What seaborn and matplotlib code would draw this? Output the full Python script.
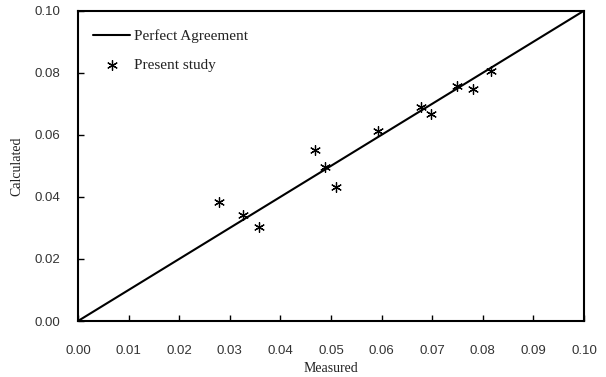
import matplotlib
matplotlib.use("Agg")
import matplotlib.pyplot as plt
import seaborn as sns
import pandas as pd

# Measured vs calculated values
measured = [0.0279, 0.0327, 0.0357, 0.0469, 0.0488, 0.0509, 0.0593, 0.0678, 0.0698, 0.0750, 0.0780, 0.0817]
calculated = [0.0384, 0.0342, 0.0302, 0.0551, 0.0495, 0.0433, 0.0612, 0.0689, 0.0667, 0.0757, 0.0749, 0.0807]

# 1:1 reference line
ref_x = [0.0, 0.10]
ref_y = [0.0, 0.10]

x_ticks = [0.00, 0.01, 0.02, 0.03, 0.04, 0.05, 0.06, 0.07, 0.08, 0.09, 0.10]
y_ticks = [0.00, 0.02, 0.04, 0.06, 0.08, 0.10]

sns.set_theme(style="ticks")
plt.rcParams["font.family"] = ["Liberation Sans", "DejaVu Sans"]

fig = plt.figure(figsize=(6.06, 3.77), dpi=100)
ax = fig.add_axes([0.1287, 0.1485, 0.835, 0.8231])

df_pts = pd.DataFrame({"Measured": measured, "Calculated": calculated})
df_ref = pd.DataFrame({"x": ref_x, "y": ref_y})

sns.lineplot(data=df_ref, x="x", y="y", ax=ax, color="black", linewidth=1.5,
             label="Perfect Agreement")
sns.scatterplot(data=df_pts, x="Measured", y="Calculated", ax=ax,
                marker=(6, 2, 0), s=50, color="black", linewidth=0.9,
                edgecolor="#111111", label="Present study")

ax.set_xlim(0, 0.10)
ax.set_ylim(0, 0.10)
ax.set_xticks(x_ticks)
ax.set_yticks(y_ticks)
ax.set_xticklabels([f"{v:.2f}" for v in x_ticks], fontsize=9.5, color="#333333")
ax.set_yticklabels([f"{v:.2f}" for v in y_ticks], fontsize=9.5, color="#333333")
ax.tick_params(direction="in", length=4, width=1, color="black")
ax.tick_params(axis="x", pad=17)
ax.tick_params(axis="y", pad=13)

for sp in ax.spines.values():
    sp.set_visible(True)
    sp.set_linewidth(1.5)
    sp.set_color("black")

serif = ["Liberation Serif", "DejaVu Serif"]
ax.set_xlabel("Measured", fontsize=10, family=serif, color="#222222", labelpad=4)
ax.set_ylabel("Calculated", fontsize=10, family=serif, color="#222222", labelpad=8)

leg = ax.legend(loc="upper left", bbox_to_anchor=(0.018, 0.959), frameon=False,
                handlelength=2.4, handletextpad=0.3, labelspacing=1.0,
                borderaxespad=0.0, prop={"family": serif, "size": 11})
for t in leg.get_texts():
    t.set_color("#222222")

fig.savefig("out.png", dpi=100)
